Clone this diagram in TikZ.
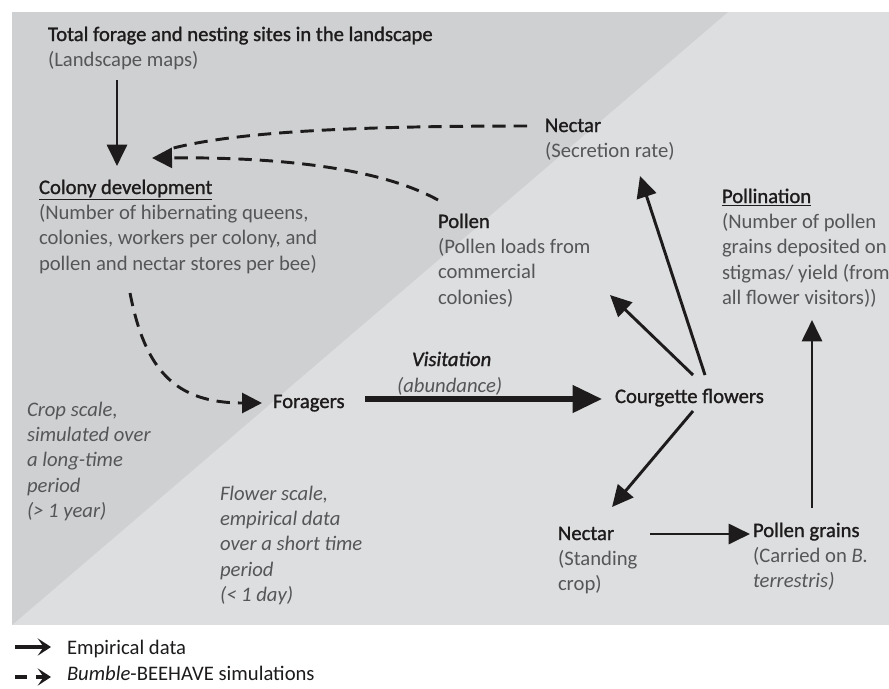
\documentclass[tikz,border=0pt]{standalone}
\usepackage{fontspec}
\setmainfont{Carlito}
\newfontfamily\headfont[FakeBold=1.2]{Carlito}
\usetikzlibrary{arrows.meta}
\definecolor{bgdark}{RGB}{207,208,210}
\definecolor{bglight}{RGB}{221,222,224}
\definecolor{ink}{RGB}{30,27,28}
\definecolor{sub}{RGB}{85,86,88}
\newcommand{\mlines}[1]{\begin{tabular}[t]{@{}l@{}}#1\end{tabular}}
\newcommand{\hd}[1]{{\headfont #1}}
\begin{document}
\begin{tikzpicture}[x=0.75pt,y=-0.75pt,
  txt/.style={anchor=base west, inner sep=0pt, outer sep=0pt, font=\fontsize{15.5}{19}\selectfont, text=ink},
  solidarrow/.style={draw=ink, line width=2.2pt, -{Triangle[length=16pt,width=15pt]}},
  thickarrow/.style={draw=ink, line width=4pt, -{Triangle[length=22pt,width=20pt]}},
  dashline/.style={draw=ink, line width=2.2pt, dash pattern=on 10pt off 6pt},
  dasharrow/.style={dashline, -{Triangle[length=15pt,width=15pt]}},
  legsolid/.style={draw=ink, line width=2.4pt, -{Stealth[length=10pt,width=13pt,inset=4.5pt]}},
  legdash/.style={draw=ink, line width=2.4pt, dash pattern=on 9pt off 7pt, -{Stealth[length=10pt,width=13pt,inset=4.5pt]}},
]
\useasboundingbox (0,0) rectangle (889,689);
\fill[white] (0,0) rectangle (889,689);
\fill[bglight] (12,12) rectangle (889,625);
\fill[bgdark] (12,12) -- (728,12) -- (12,625) -- cycle;

% texts
\node[txt] (total) at (48,41) {\mlines{\hd{Total forage and nesting sites in the landscape}\\ \color{sub}(Landscape maps)}};
\node[txt] (colony) at (39,194) {\mlines{\underline{\hd{Colony development}}\\ \color{sub}(Number of hibernating queens,\\ \color{sub}colonies, workers per colony, and\\ \color{sub}pollen and nectar stores per bee)}};
\node[txt] (nectarS) at (545,132) {\mlines{\hd{Nectar}\\ \color{sub}(Secretion rate)}};
\node[txt] (pollen) at (438,228) {\mlines{\hd{Pollen}\\ \color{sub}(Pollen loads from\\ \color{sub}commercial\\ \color{sub}colonies)}};
\node[txt] (pollination) at (722,203) {\mlines{\underline{\hd{Pollination}}\\ \color{sub}(Number of pollen\\ \color{sub}grains deposited on\\ \color{sub}stigmas/ yield (from\\ \color{sub}all flower visitors))}};
\node[txt] (foragers) at (273,408) {\hd{Foragers}};
\node[txt] (visit) at (412,366) {\headfont\itshape Visitation};
\node[txt, text=sub] (abund) at (397,392) {\itshape (abundance)};
\node[txt] (courg) at (615,403) {\hd{Courgette flowers}};
\node[txt] (nectarC) at (558,540) {\mlines{\hd{Nectar}\\ \color{sub}(Standing\\ \color{sub}crop)}};
\node[txt] (grains) at (753,537) {\mlines{\hd{Pollen grains}\\ \color{sub}(Carried on \textit{B.}\\ \color{sub}\textit{terrestris)}}};
\node[txt, text=sub] (cropscale) at (27,416) {\mlines{\itshape Crop scale,\\ \itshape simulated over\\ \itshape a long-time\\ \itshape period\\ \itshape (> 1 year)}};
\node[txt, text=sub] (flowerscale) at (220,500) {\mlines{\itshape Flower scale,\\ \itshape empirical data\\ \itshape over a short time\\ \itshape period\\ \itshape (< 1 day)}};

% connector end points
\coordinate (totalS) at (117,80);
\coordinate (colonyN) at (117,166);
\coordinate (colonyE) at (152,158);
\coordinate (colonyE2) at (166,150);
\coordinate (colonyS) at (130,293);
\coordinate (nectarSW) at (527,126);
\coordinate (pollenNW) at (438,200);
\coordinate (foragersW) at (262,403);
\coordinate (foragersE) at (365,399);
\coordinate (courgW) at (602,399);
\coordinate (courgN1) at (705,375);
\coordinate (courgN2) at (693,375);
\coordinate (courgS) at (693,411);
\coordinate (nectarSS) at (640,176);
\coordinate (pollenSE) at (610,295);
\coordinate (nectarCN) at (612,507);
\coordinate (nectarCE) at (650,534);
\coordinate (grainsW) at (750,534);
\coordinate (grainsN) at (812,508);
\coordinate (pollinationS) at (812,320);

% connectors
\draw[solidarrow] (totalS) -- (colonyN);
\draw[dashline] (nectarSW) .. controls (350,126) and (230,132) .. (colonyE2);
\draw[dasharrow] (pollenNW) .. controls (380,168) and (280,157) .. (colonyE);
\draw[dasharrow] (colonyS) .. controls (145,370) and (175,403) .. (foragersW);
\draw[thickarrow] (foragersE) -- (courgW);
\draw[solidarrow] (courgN1) -- (nectarSS);
\draw[solidarrow] (courgN2) -- (pollenSE);
\draw[solidarrow] (courgS) -- (nectarCN);
\draw[solidarrow] (nectarCE) -- (grainsW);
\draw[solidarrow] (grainsN) -- (pollinationS);

% legend
\coordinate (leg1a) at (15,647);
\coordinate (leg1b) at (51,647);
\coordinate (leg2a) at (15,677);
\coordinate (leg2b) at (51,677);
\draw[legsolid] (leg1a) -- (leg1b);
\draw[legdash] (leg2a) -- (leg2b);
\node[txt] (legtext1) at (67,654) {Empirical data};
\node[txt] (legtext2) at (67,680) {\textit{Bumble}-BEEHAVE simulations};
\end{tikzpicture}
\end{document}
